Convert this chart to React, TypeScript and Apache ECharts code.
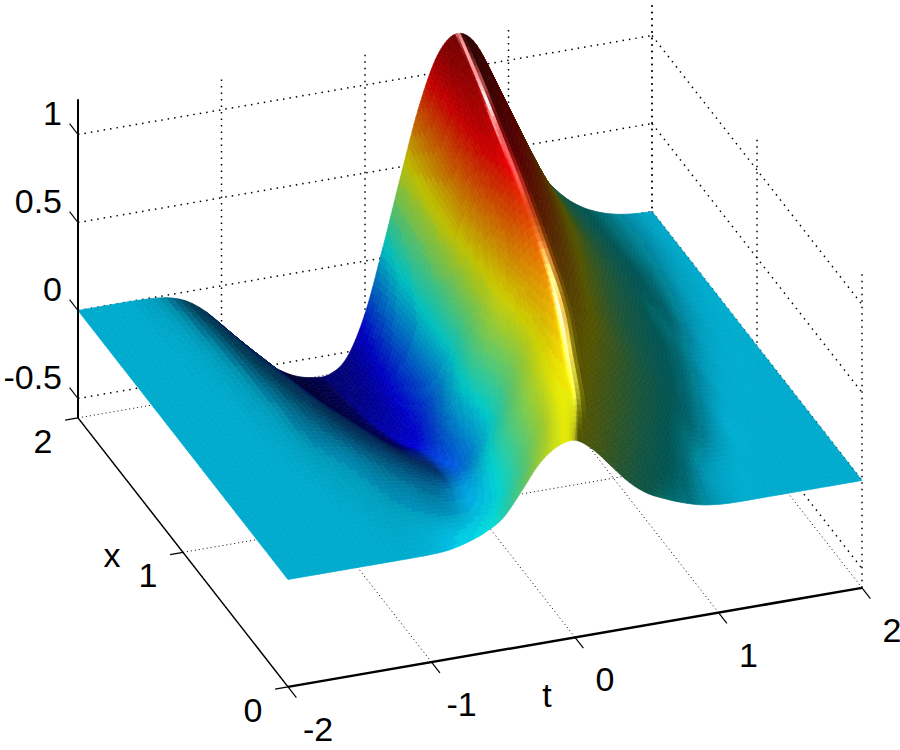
import React, { useEffect, useRef } from "react";
import * as echarts from "echarts";

// Values: z at each (x row, t column), plus where the ridge and trough sit per row.
const tKnots = [-2,-1.875,-1.75,-1.625,-1.5,-1.375,-1.25,-1.125,-1,-0.875,-0.75,-0.625,-0.5,-0.375,-0.25,-0.125,0,0.125,0.25,0.375,0.5,0.625,0.75,0.875,1,1.125,1.25,1.375,1.5,1.625,1.75,1.875,2];
const xKnots = [0,0.25,0.5,0.75,1,1.25,1.5,1.75,2];
const zAtX000 = [0,0,0,0,0,0,0,0,0.002,0.01,0.035,0.075,0.14,0.27,0.41,0.49,0.51,0.44,0.33,0.22,0.14,0.09,0.05,0.02,0.005,0,0,0,0,0,0,0,0];
const zAtX025 = [0,0,0,0,0,0,0,-0.002,-0.005,-0.008,-0.012,-0.015,0,0.06,0.17,0.33,0.47,0.52,0.51,0.41,0.3,0.2,0.12,0.06,0.02,0.005,0,0,0,0,0,0,0];
const zAtX050 = [0,0,0,0,0,0,-0.002,-0.006,-0.013,-0.025,-0.04,-0.06,-0.075,-0.055,0.05,0.2,0.36,0.49,0.56,0.56,0.48,0.37,0.26,0.17,0.1,0.05,0.015,0,0,0,0,0,0];
const zAtX075 = [0,0,0,0,0,-0.001,-0.005,-0.013,-0.025,-0.045,-0.075,-0.11,-0.15,-0.185,-0.16,-0.02,0.16,0.36,0.53,0.63,0.63,0.55,0.43,0.31,0.2,0.12,0.06,0.02,0.003,0,0,0,0];
const zAtX100 = [0,0,0,0,0,-0.002,-0.008,-0.025,-0.05,-0.085,-0.13,-0.18,-0.24,-0.28,-0.26,-0.06,0.17,0.38,0.55,0.69,0.76,0.72,0.58,0.43,0.3,0.19,0.12,0.06,0.02,0.004,0,0,0];
const zAtX125 = [0,0,0,0,0,-0.003,-0.012,-0.035,-0.075,-0.125,-0.19,-0.26,-0.34,-0.41,-0.41,-0.25,0,0.28,0.56,0.77,0.91,0.89,0.76,0.59,0.43,0.29,0.19,0.11,0.06,0.02,0.004,0,0];
const zAtX150 = [0,0,0,0,-0.001,-0.005,-0.018,-0.055,-0.11,-0.18,-0.27,-0.36,-0.44,-0.5,-0.49,-0.32,-0.06,0.25,0.58,0.84,1.03,1.03,0.91,0.73,0.55,0.39,0.26,0.16,0.09,0.04,0.012,0.002,0];
const zAtX175 = [0,0,0,0,-0.002,-0.008,-0.03,-0.08,-0.16,-0.25,-0.35,-0.44,-0.52,-0.56,-0.56,-0.42,-0.13,0.18,0.52,0.84,1.07,1.14,1.04,0.85,0.63,0.44,0.29,0.18,0.1,0.05,0.02,0.004,0];
const zAtX200 = [0,0,0,0,-0.004,-0.015,-0.05,-0.12,-0.22,-0.33,-0.44,-0.52,-0.58,-0.61,-0.61,-0.53,-0.3,0.06,0.45,0.82,1.09,1.2,1.15,0.96,0.71,0.48,0.3,0.18,0.1,0.05,0.02,0.005,0];
const zRows = [zAtX000,zAtX025,zAtX050,zAtX075,zAtX100,zAtX125,zAtX150,zAtX175,zAtX200];
const ridgeT = [0.02,0.19,0.32,0.44,0.49,0.52,0.55,0.59,0.64];
const troughT = [-0.7,-0.625,-0.5,-0.42,-0.36,-0.33,-0.32,-0.32,-0.31];

const tTicks = [-2,-1,0,1,2];
const xTicks = [0,1,2];
const zTicks = [-0.5,0,0.5,1];
const tTickLabels = ["-2","-1","0","1","2"];
const xTickLabels = ["0","1","2"];
const zTickLabels = ["-0.5","0","0.5","1"];
const zFloor = -0.61;
const zTop = 1.2;
const cMin = -0.61;
const cMax = 1.21;

const px = (t: number, x: number, z: number) => 575 + 143.5 * t - 105 * x;
const py = (t: number, x: number, z: number) => 530 - 24.75 * t - 134.5 * x - 176 * z;

// Drawing mesh: a Catmull-Rom spline through the table above, which makes the mesh between
// table values interpolated. It follows the ridge and trough so the surface doesn't scallop.
const cr = (a: number, b: number, c: number, d: number, u: number) =>
  0.5 * (2 * b + (c - a) * u + (2 * a - 5 * b + 4 * c - d) * u * u + (3 * b - a - 3 * c + d) * u * u * u);
function sampleAt(v: number[], p: number) {
  const i = Math.min(v.length - 2, Math.max(0, Math.floor(p)));
  return cr(v[Math.max(0, i - 1)], v[i], v[i + 1], v[Math.min(v.length - 1, i + 2)], p - i);
}
const SUBX = 8;
const NL = 36, NM = 70, NR = 60;
const NK = NL + NM + NR;
const NI = (xKnots.length - 1) * SUBX;
function tOf(tr: number, ri: number, k: number) {
  if (k < NL) return -2 + (k / NL) * (tr + 2);
  if (k < NL + NM) return tr + ((k - NL) / NM) * (ri - tr);
  return ri + ((k - NL - NM) / NR) * (2 - ri);
}
const tGrid: number[][] = [];
const zGrid: number[][] = [];
const xFine: number[] = [];
for (let i = 0; i <= NI; i++) {
  const p = i / SUBX;
  xFine.push(sampleAt(xKnots, p));
  const tr = sampleAt(troughT, p), ri = sampleAt(ridgeT, p);
  const tRow: number[] = [], zRow: number[] = [];
  for (let k = 0; k <= NK; k++) {
    const across = zRows.map((row, j) => sampleAt(row, (tOf(troughT[j], ridgeT[j], k) + 2) / 0.125));
    tRow.push(tOf(tr, ri, k));
    zRow.push(sampleAt(across, p));
  }
  tGrid.push(tRow);
  zGrid.push(zRow);
}

function jet(v: number) {
  const f = Math.min(63, Math.max(0, Math.floor(v * 64))) / 63;
  const ch = (o: number) => Math.max(0, Math.min(1, 1.5 - Math.abs(4 * f - o)));
  return [ch(3), ch(2), ch(1)];
}
const norm3 = (v: number[]) => { const m = Math.hypot(v[0], v[1], v[2]); return v.map((a) => a / m); };
// Hand-tuned lighting. The z gate on the highlight is a visual fix, not a physical light.
const L = norm3([-0.6, -0.1, 0.79]);
const H = norm3([0, -0.36, 0.93]);
function shade(i: number, k: number) {
  const k0 = Math.max(0, k - 1), k1 = Math.min(NK, k + 2);
  const mz = (a: number, b: number) => zGrid[a][b];
  const mt = (a: number, b: number) => tGrid[a][b];
  const zt = ((mz(i, k1) + mz(i + 1, k1)) - (mz(i, k0) + mz(i + 1, k0))) / ((mt(i, k1) + mt(i + 1, k1)) - (mt(i, k0) + mt(i + 1, k0)));
  const dzx = ((mz(i + 1, k) + mz(i + 1, k + 1)) - (mz(i, k) + mz(i, k + 1))) / 2;
  const dtx = ((mt(i + 1, k) + mt(i + 1, k + 1)) - (mt(i, k) + mt(i, k + 1))) / 2;
  const zx = (dzx - zt * dtx) / (xFine[i + 1] - xFine[i]);
  const z = (mz(i, k) + mz(i + 1, k) + mz(i, k + 1) + mz(i + 1, k + 1)) / 4;
  const n = norm3([-zt * 3, -zx * 2 / 1.8, 1]);
  const ns = norm3([-zt * 1.4, -zx * 2 / 1.8, 1]);
  const dl = Math.max(0, n[0] * L[0] + n[1] * L[1] + n[2] * L[2]);
  const dh = Math.max(0, ns[0] * H[0] + ns[1] * H[1] + ns[2] * H[2]);
  const b = 0.33 + 0.6 * dl;
  const gate = Math.max(0, Math.min(1, (z - 0.28) / 0.2));
  const sp = 0.95 * gate * Math.pow(dh, 60);
  const c = jet((z - cMin) / (cMax - cMin));
  const m = c.map((a) => Math.round(255 * Math.min(1, a * b + sp)));
  return `rgb(${m[0]},${m[1]},${m[2]})`;
}

const cells: number[][] = [];
for (let i = NI - 1; i >= 0; i--) for (let k = NK - 1; k >= 0; k--) cells.push([i, k]);

type Seg = { a: number[]; b: number[]; w: number; dash?: number[] };
const guides: Seg[] = [];
const floorDash = [1, 3], wallDash = [1.5, 5];
tTicks.forEach((t) => {
  guides.push({ a: [t, 0, zFloor], b: [t, 2, zFloor], w: 1, dash: floorDash });
  guides.push({ a: [t, 2, zFloor], b: [t, 2, zTop], w: 1.5, dash: wallDash });
});
xTicks.forEach((x) => {
  guides.push({ a: [-2, x, zFloor], b: [2, x, zFloor], w: 1, dash: floorDash });
  guides.push({ a: [2, x, zFloor], b: [2, x, zTop], w: 1.5, dash: wallDash });
});
zTicks.forEach((z) => {
  guides.push({ a: [-2, 2, z], b: [2, 2, z], w: 1.5, dash: wallDash });
  guides.push({ a: [2, 2, z], b: [2, 0, z], w: 1.5, dash: wallDash });
});
const axes: Seg[] = [
  { a: [-2, 0, zFloor], b: [2, 0, zFloor], w: 2.5 },
  { a: [-2, 0, zFloor], b: [-2, 2, zFloor], w: 1.5 },
  { a: [-2, 2, zFloor], b: [-2, 2, zTop], w: 2 },
];
tTicks.forEach((t) => axes.push({ a: [t, 0, zFloor], b: [t, -0.08, zFloor], w: 1.2 }));
xTicks.forEach((x) => axes.push({ a: [-2, x, zFloor], b: [-2.09, x, zFloor], w: 1.2 }));
zTicks.forEach((z) => axes.push({ a: [-2, 2, z], b: [-2, 2.08, z], w: 1.2 }));

type Lab = { s: string; p: number[]; dx: number; dy: number; align: string };
const labels: Lab[] = [];
tTicks.forEach((t, i) => labels.push({ s: tTickLabels[i], p: [t, 0, zFloor], dx: 30, dy: 42, align: "center" }));
xTicks.forEach((x, i) => labels.push({ s: xTickLabels[i], p: [-2, x, zFloor], dx: -35, dy: 23, align: "center" }));
zTicks.forEach((z, i) => labels.push({ s: zTickLabels[i], p: [-2, 2, z], dx: -16, dy: -22, align: "right" }));
labels.push({ s: "t", p: [0, 0, zFloor], dx: -28, dy: 58, align: "center" });
labels.push({ s: "x", p: [-2, 1, zFloor], dx: -71, dy: 3, align: "center" });

export default function App() {
  const ref = useRef<HTMLDivElement>(null);
  useEffect(() => {
    document.body.style.margin = "0";
    const chart = echarts.init(ref.current!, undefined, { renderer: "svg" });
    const segItem = (list: Seg[]) => (_: any, api: any) => {
      const s = list[api.value(0)];
      const p = api.coord([px(s.a[0], s.a[1], s.a[2]), py(s.a[0], s.a[1], s.a[2])]);
      const q = api.coord([px(s.b[0], s.b[1], s.b[2]), py(s.b[0], s.b[1], s.b[2])]);
      return {
        type: "line",
        shape: { x1: p[0], y1: p[1], x2: q[0], y2: q[1] },
        style: { stroke: "#000", lineWidth: s.w, lineDash: s.dash, fill: null },
      };
    };
    chart.setOption({
      animation: false,
      backgroundColor: "#fff",
      tooltip: { show: false },
      grid: { left: 0, right: 0, top: 0, bottom: 0 },
      xAxis: { type: "value", min: 0, max: 900, show: false },
      yAxis: { type: "value", min: 0, max: 750, inverse: true, show: false },
      series: [
        {
          type: "custom", silent: true, clip: false, z: 1,
          data: guides.map((_, i) => [i, 0]),
          renderItem: segItem(guides),
        },
        {
          type: "custom", silent: true, clip: false, z: 2,
          data: cells,
          renderItem: (_: any, api: any) => {
            const i = api.value(0), k = api.value(1);
            const corners = [[i, k], [i, k + 1], [i + 1, k + 1], [i + 1, k]];
            const pts = corners.map(([a, b]) => api.coord([
              px(tGrid[a][b], xFine[a], zGrid[a][b]),
              py(tGrid[a][b], xFine[a], zGrid[a][b]),
            ]));
            const fill = shade(i, k);
            return { type: "polygon", shape: { points: pts }, style: { fill, stroke: fill, lineWidth: 0.7 } };
          },
        },
        {
          type: "custom", silent: true, clip: false, z: 3,
          data: axes.map((_, i) => [i, 0]),
          renderItem: segItem(axes),
        },
        {
          type: "custom", silent: true, clip: false, z: 4,
          data: labels.map((_, i) => [i, 0]),
          renderItem: (_: any, api: any) => {
            const l = labels[api.value(0)];
            const c = api.coord([px(l.p[0], l.p[1], l.p[2]) + l.dx, py(l.p[0], l.p[1], l.p[2]) + l.dy]);
            return {
              type: "text", x: c[0], y: c[1],
              style: { text: l.s, fontFamily: "'Liberation Sans', Arial, sans-serif", fontSize: 34, fill: "#000", align: l.align, verticalAlign: "middle" },
            };
          },
        },
      ],
    });
    return () => chart.dispose();
  }, []);
  return <div ref={ref} style={{ position: "absolute", left: 0, top: 0, width: 900, height: 750 }} />;
}
